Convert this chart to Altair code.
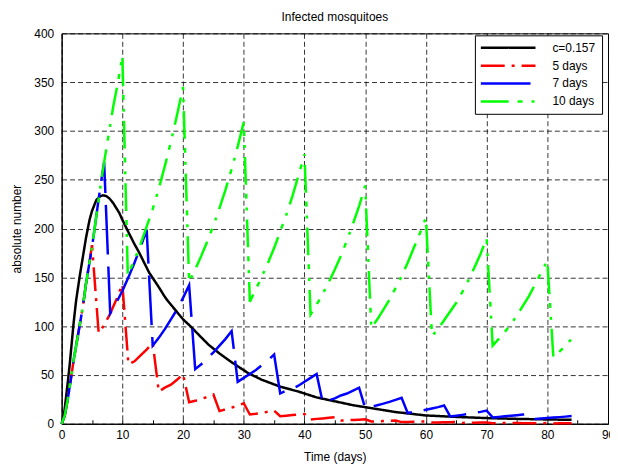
import altair as alt
import pandas as pd

series_names = ["c=0.157", "5 days", "7 days", "10 days"]
series_colors = ["#000000", "#ff0000", "#0000ff", "#00ff00"]
series_dashes = [[1, 0], [24, 7, 3, 7], [50, 12], [28, 9, 5, 9, 3, 9]]

x_ticks = list(range(0, 91, 10))
x_minor_ticks = list(range(0, 91, 5))
y_ticks = list(range(0, 401, 50))

black = [(0, 0), (0.25, 5), (0.5, 15), (1, 42), (1.3, 59), (2, 105), (2.4, 127), (3, 152),
         (3.5, 171), (4, 190), (4.6, 209), (5, 218), (5.7, 229), (6.3, 233), (6.8, 234),
         (7.3, 233.5), (7.85, 231), (8.5, 226), (9.5, 216), (10, 209), (11.1, 195),
         (12, 184), (12.8, 175), (14.4, 155), (16, 140), (17.1, 129), (18, 122), (20, 107),
         (21.2, 100), (22.6, 91), (24.2, 81), (26, 72), (28, 63), (30.8, 51.6), (33, 45),
         (36, 38), (39, 33), (42, 27), (45, 23), (48, 19), (50, 17), (55, 12), (60, 8.5),
         (65, 7), (70, 5.8), (75, 5), (80, 4.4), (84, 4)]

red = [(0, 0), (0.5, 8), (1, 25), (1.5, 45), (2, 66), (2.5, 84), (3, 102), (3.5, 120),
       (4, 143), (4.5, 162), (5, 183),
       (6.1, 93), (7, 101), (8, 113), (9, 127), (10, 143),
       (11, 61), (12, 64), (13, 70), (14, 76), (15, 83),
       (16, 33), (17, 37), (18, 40), (19, 45), (20, 51),
       (21, 22), (22, 23.5), (23, 25.5), (24, 27.5), (25, 30),
       (26, 13), (27, 14.8), (28, 16.5), (29, 18.6), (30, 21),
       (31, 9.5), (32, 10.2), (33, 11.1), (34, 12.3), (35, 13.5),
       (36, 7.8), (37, 8.3), (38, 8.9), (39, 9.4), (40, 10),
       (41, 4.4), (42, 5), (43, 5.5), (44, 6.1), (45, 6.8),
       (46, 3.3), (47, 3.6), (48, 3.9), (49, 4.2), (50, 4.6),
       (51, 2.3), (52, 2.5), (53, 2.8), (54, 3.1), (55, 3.4),
       (56, 1.7), (57, 1.85), (58, 2.0), (59, 2.2), (60, 2.5),
       (61, 1.2), (62, 1.3), (63, 1.45), (64, 1.6), (65, 1.8),
       (66, 0.9), (67, 1.0), (68, 1.1), (69, 1.2), (70, 1.3),
       (71, 0.6), (72, 0.65), (73, 0.75), (74, 0.8), (75, 0.9),
       (76, 0.45), (77, 0.5), (78, 0.55), (79, 0.6), (80, 0.7),
       (81, 0.35), (82, 0.4), (83, 0.45), (84, 0.5)]

blue = [(0, 0), (0.5, 8), (1, 25), (1.5, 45), (2, 66), (2.5, 84), (3, 102), (3.5, 120),
        (4, 143), (4.5, 162), (5, 181), (5.5, 203), (6, 226), (6.5, 248), (7, 268),
        (8, 113), (9, 124), (10, 136), (11, 150), (12, 165), (13, 181), (14, 199),
        (15, 80), (16, 88), (17, 97), (18, 107), (19, 117), (20, 129), (21, 142),
        (22, 56), (23, 61), (24, 67), (25, 73), (26, 80), (27, 87), (28, 95),
        (29, 43), (30, 47), (31, 51), (32, 55), (33, 60), (34, 65), (35, 71),
        (36, 31), (37, 34), (38, 36), (39, 39), (40, 43), (41, 47), (42, 51),
        (43, 22), (44, 24), (45, 26), (46, 29), (47, 31), (48, 34), (49, 37),
        (50, 16), (51, 17.4), (52, 19), (53, 20.6), (54, 22.4), (55, 24.4), (56, 26.5),
        (57, 11), (58, 12), (59, 13), (60, 14.3), (61, 15.6), (62, 17), (63, 18.7),
        (64, 7.5), (65, 8.3), (66, 9.1), (67, 10), (68, 11.1), (69, 12.2), (70, 13.5),
        (71, 6.5), (72, 7), (73, 7.6), (74, 8.2), (75, 8.8), (76, 9.4), (77, 10),
        (78, 5), (79, 5.4), (80, 5.8), (81, 6.3), (82, 6.8), (83, 7.3), (84, 7.9)]

green = [(0, 0), (0.5, 8), (1, 25), (1.5, 45), (2, 66), (2.5, 84), (3, 102), (3.5, 120),
         (4, 143), (4.5, 162), (5, 181), (5.5, 203), (6, 226), (6.5, 248), (7, 268),
         (7.5, 287), (8, 306), (8.5, 325), (9, 341), (9.5, 358), (10, 377),
         (10.9, 152), (12, 168), (13, 184), (14, 202), (15, 220), (16, 241), (17, 264),
         (18, 289), (19, 316), (20, 345),
         (21, 145), (22, 158), (23, 172), (24, 187), (25, 203), (26, 221), (27, 240),
         (28, 261), (29, 284), (30, 309),
         (31, 125), (32, 138), (33, 151), (34, 165), (35, 180), (36, 197), (37, 214),
         (38, 233), (39, 254), (40, 276),
         (41, 112), (42, 122), (43, 133), (44, 145), (45, 158), (46, 172), (47, 188),
         (48, 205), (49, 223), (50, 244),
         (51, 98), (52, 107), (53, 117), (54, 127), (55, 139), (56, 151), (57, 165),
         (58, 180), (59, 195), (60, 211),
         (61, 90), (62, 97), (63, 106), (64, 115), (65, 124), (66, 135), (67, 147),
         (68, 160), (69, 174), (70, 190),
         (71, 80), (72, 87), (73, 94), (74, 102), (75, 111), (76, 121), (77, 131),
         (78, 143), (79, 155), (80, 167),
         (81, 68), (82, 74), (83, 80), (84, 87)]

rows = []
for name, pts in zip(series_names, [black, red, blue, green]):
    for i, (t, v) in enumerate(pts):
        rows.append({"t": t, "v": v, "series": name, "order": i})
df = pd.DataFrame(rows)

FONT = "Liberation Sans"
W, H = 550, 393

xscale = alt.Scale(domain=[0, 90], nice=False, zero=False)
yscale = alt.Scale(domain=[0, 400], nice=False)

legend = alt.Legend(
    title=None, orient="none", legendX=416, legendY=2,
    symbolType="M-5.5,0H5.5", symbolSize=100, symbolStrokeWidth=2.5,
    symbolOffset=21, labelOffset=38, labelAlign="left", labelFontSize=12, labelFont=FONT,
    labelColor="black", padding=6, rowPadding=5,
    fillColor="white", strokeColor="black",
)
color = alt.Color("series:N", scale=alt.Scale(domain=series_names, range=series_colors), legend=legend)
dash = alt.StrokeDash("series:N", scale=alt.Scale(domain=series_names, range=series_dashes), legend=legend)

main_x = alt.Axis(values=x_ticks, grid=True, gridDash=[5, 3], gridColor="black", gridOpacity=0.8,
                  ticks=False, tickSize=0, domainColor="black", labelFontSize=12, labelFont=FONT,
                  labelColor="black", labelPadding=6, labelFlush=False, title="Time (days)",
                  titleFontSize=12, titleFont=FONT, titleFontWeight="normal", titleColor="black",
                  titlePadding=11)
main_y = alt.Axis(values=y_ticks, grid=True, gridDash=[5, 3], gridColor="black", gridOpacity=0.8,
                  ticks=False, tickSize=0, domainColor="black", labelFontSize=12, labelFont=FONT,
                  labelColor="black", labelPadding=8, labelFlush=False, title="absolute number",
                  titleFontSize=12, titleFont=FONT, titleFontWeight="normal", titleColor="black",
                  titlePadding=10)
tick_x = alt.Axis(orient="top", offset=-H, values=x_minor_ticks, labels=False, domain=False,
                  grid=False, ticks=True, tickSize=4, tickColor="black", title=None)


def layer(name, xaxis):
    return alt.Chart(df).transform_filter(alt.datum.series == name).mark_line(
        strokeWidth=2.5, strokeCap="butt"
    ).encode(
        x=alt.X("t:Q", scale=xscale, axis=xaxis),
        y=alt.Y("v:Q", scale=yscale, axis=main_y),
        color=color,
        strokeDash=dash,
        order="order:Q",
    )


chart = alt.layer(
    layer("c=0.157", main_x),
    layer("5 days", tick_x),
    layer("7 days", None),
    layer("10 days", None),
).resolve_axis(x="independent").properties(
    width=W, height=H,
    background="white",
    title=alt.TitleParams("Infected mosquitoes", fontSize=12, fontWeight="normal", font=FONT,
                          color="black", offset=3, anchor="middle"),
    autosize=alt.AutoSizeParams(type="none"),
    padding={"left": 54, "top": 24, "right": 2, "bottom": 40},
).configure_view(stroke="black", strokeWidth=1)

chart.save("out.html", embed_options={"renderer": "svg", "actions": False})
